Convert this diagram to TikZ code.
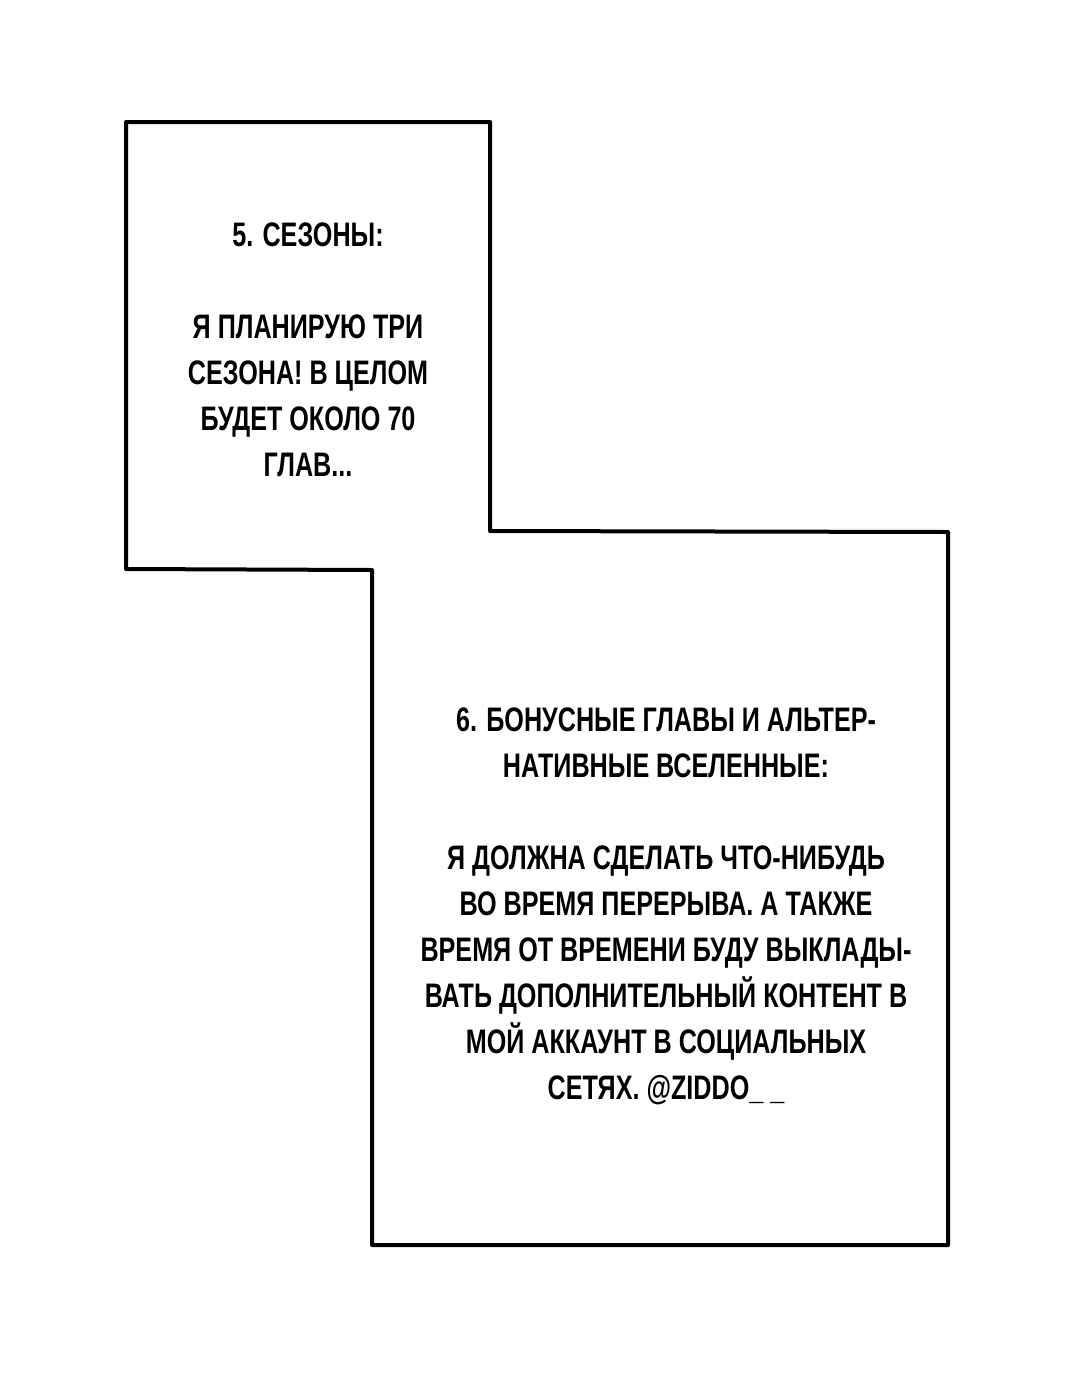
\documentclass[tikz,border=0pt]{standalone}
\usepackage{fontspec}
\setmainfont{Liberation Sans}[FakeStretch=0.74]
\begin{document}
\begin{tikzpicture}[x=1pt,y=-1pt,
  txt/.style={align=center,font=\bfseries\fontsize{34}{46}\selectfont,inner sep=0pt}]
\useasboundingbox (0,0) rectangle (1080,1385);
\fill[white] (0,0) rectangle (1080,1385);
\draw[line width=4pt,line join=round] (126,122) -- (490,122) -- (490,531) -- (948,532) -- (948,1245) -- (372,1245) -- (372,570) -- (126,569) -- cycle;
\node[txt] (a) at (308,350) {5. СЕЗОНЫ:\\[46pt]Я ПЛАНИРУЮ ТРИ\\СЕЗОНА! В ЦЕЛОМ\\БУДЕТ ОКОЛО 70\\ГЛАВ...};
\node[txt] (b) at (666,906) {6. БОНУСНЫЕ ГЛАВЫ И АЛЬТЕР-\\НАТИВНЫЕ ВСЕЛЕННЫЕ:\\[46pt]Я ДОЛЖНА СДЕЛАТЬ ЧТО-НИБУДЬ\\ВО ВРЕМЯ ПЕРЕРЫВА. А ТАКЖЕ\\ВРЕМЯ ОТ ВРЕМЕНИ БУДУ ВЫКЛАДЫ-\\ВАТЬ ДОПОЛНИТЕЛЬНЫЙ КОНТЕНТ В\\МОЙ АККАУНТ В СОЦИАЛЬНЫХ\\СЕТЯХ. @ZIDDO\_ \_};
\end{tikzpicture}
\end{document}
